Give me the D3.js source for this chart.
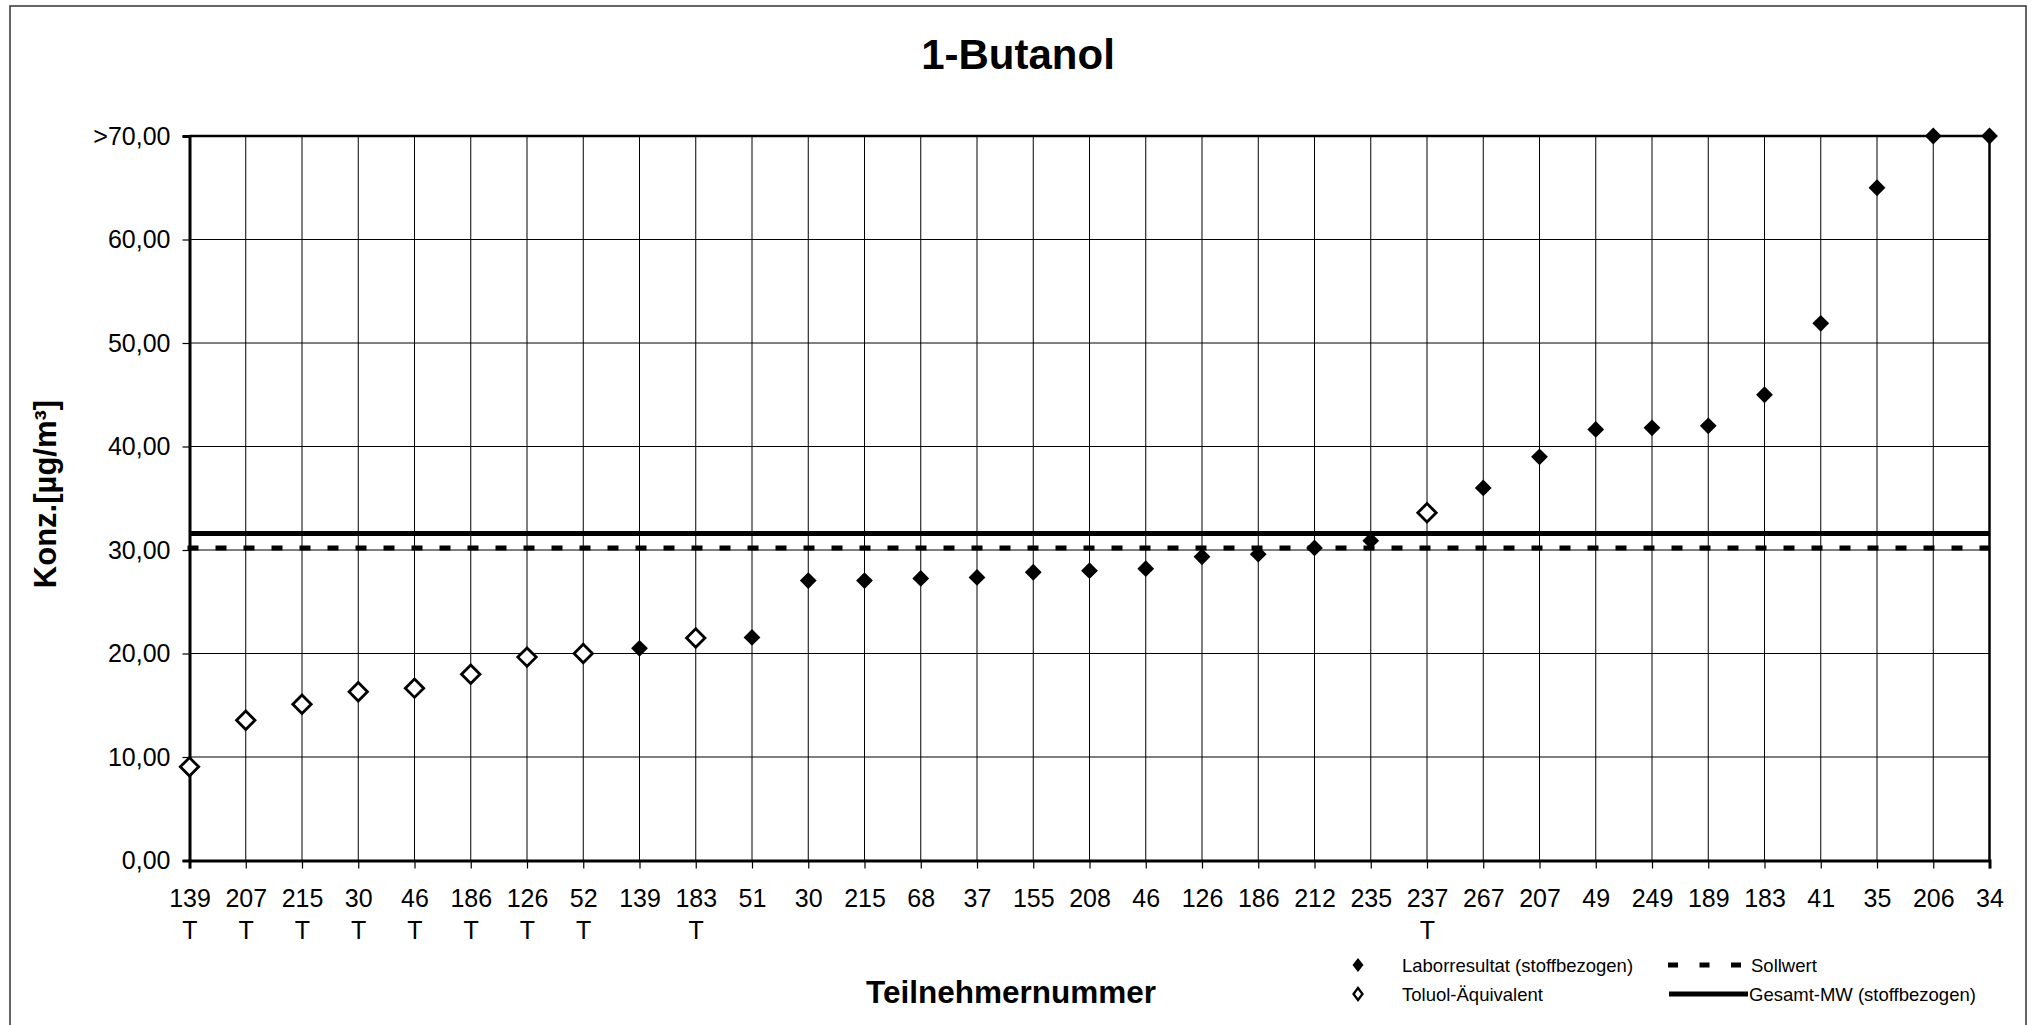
<!DOCTYPE html>
<html>
<head>
<meta charset="utf-8">
<script src="https://cdn.jsdelivr.net/npm/d3@7"></script>
<style>
  html, body { margin: 0; padding: 0; background: #fff; }
  svg { display: block; }
  text { font-family: "Liberation Sans", Arial, Helvetica, sans-serif; fill: #000; }
</style>
</head>
<body>
<svg id="chart" width="2035" height="1025"></svg>
<script>
// ---------------- data ----------------
const participants = ["139","207","215","30","46","186","126","52","139","183","51","30","215","68","37","155","208","46","126","186","212","235","237","267","207","49","249","189","183","41","35","206","34"];
const suffixes = ["T","T","T","T","T","T","T","T","","T","","","","","","","","","","","","","T","","","","","","","","","",""];
const values = [9.05,13.55,15.1,16.3,16.65,18.0,19.65,20.0,20.5,21.5,21.55,27.05,27.05,27.25,27.35,27.85,28.0,28.2,29.35,29.6,30.2,30.9,33.6,36.0,39.0,41.65,41.8,42.0,45.0,51.9,65.0,70,70];
const isToluol = [true,true,true,true,true,true,true,true,false,true,false,false,false,false,false,false,false,false,false,false,false,false,true,false,false,false,false,false,false,false,false,false,false];
const sollwert = 30.2;
const gesamtMW = 31.6;
const yTickValues = [0,10,20,30,40,50,60,70];
const yTickLabels = ["0,00","10,00","20,00","30,00","40,00","50,00","60,00",">70,00"];
const titleText = "1-Butanol";
const yTitle = "Konz.[µg/m³]";
const xTitle = "Teilnehmernummer";
const legendItems = ["Laborresultat (stoffbezogen)","Toluol-Äquivalent","Sollwert","Gesamt-MW (stoffbezogen)"];

// ---------------- layout ----------------
const pLeft = 189.5, pRight = 1989.5, pTop = 136, pBottom = 860.5;
const svg = d3.select("#chart");
svg.append("rect").attr("x",0).attr("y",0).attr("width",2035).attr("height",1025).attr("fill","#fff");
// outer frame
svg.append("rect").attr("x",10).attr("y",6).attr("width",2016).attr("height",1040)
  .attr("fill","none").attr("stroke","#333").attr("stroke-width",1.5);

const idx = d3.range(participants.length);
const x = d3.scalePoint().domain(idx).range([pLeft, pRight]).padding(0);
const y = d3.scaleLinear().domain([0,70]).range([pBottom, pTop]);

// gridlines
const grid = svg.append("g");
grid.selectAll("line.v").data(idx).join("line")
  .attr("x1", d => x(d)).attr("x2", d => x(d))
  .attr("y1", pTop).attr("y2", pBottom)
  .attr("stroke","#000").attr("stroke-width",1);
grid.selectAll("line.h").data(yTickValues).join("line")
  .attr("x1", pLeft).attr("x2", pRight)
  .attr("y1", d => y(d)).attr("y2", d => y(d))
  .attr("stroke","#000").attr("stroke-width",1);

// reference lines
svg.append("line").attr("x1", pLeft-2).attr("x2", pRight)
  .attr("y1", y(sollwert)).attr("y2", y(sollwert))
  .attr("stroke","#000").attr("stroke-width",5).attr("stroke-dasharray","11,17");
svg.append("line").attr("x1", pLeft).attr("x2", pRight)
  .attr("y1", y(gesamtMW)).attr("y2", y(gesamtMW))
  .attr("stroke","#000").attr("stroke-width",5);

// frame top/right
svg.append("line").attr("x1", pLeft).attr("x2", pRight).attr("y1", pTop).attr("y2", pTop)
  .attr("stroke","#000").attr("stroke-width",2.5);
svg.append("line").attr("x1", pRight).attr("x2", pRight).attr("y1", pTop).attr("y2", pBottom)
  .attr("stroke","#000").attr("stroke-width",2.5);

// y axis
const yAxis = svg.append("g").attr("transform", `translate(${pLeft},0)`)
  .call(d3.axisLeft(y).tickValues(yTickValues).tickSize(7).tickPadding(12)
        .tickFormat((d,i) => yTickLabels[i]));
yAxis.select(".domain").attr("stroke","#000").attr("stroke-width",3);
yAxis.selectAll(".tick line").attr("stroke","#000").attr("stroke-width",1.2);
yAxis.selectAll(".tick text").attr("font-size",25).attr("font-family","Liberation Sans, Arial, sans-serif").attr("fill","#000");

// x axis
const xAxis = svg.append("g").attr("transform", `translate(0,${pBottom})`)
  .call(d3.axisBottom(x).tickSize(8).tickFormat(d => participants[d]));
xAxis.select(".domain").attr("stroke","#000").attr("stroke-width",3);
xAxis.selectAll(".tick line").attr("stroke","#000").attr("stroke-width",1.2);
xAxis.selectAll(".tick text").attr("font-size",25).attr("font-family","Liberation Sans, Arial, sans-serif")
  .attr("fill","#000").attr("y",46.5).attr("dy",0);
xAxis.selectAll(".tick").append("text")
  .attr("font-size",25).attr("font-family","Liberation Sans, Arial, sans-serif").attr("fill","#000")
  .attr("text-anchor","middle").attr("y",78.5)
  .text(d => suffixes[d]);

// markers
const diamond = (r) => `M0,${-r}L${r},0L0,${r}L${-r},0Z`;
svg.append("g").selectAll("path").data(idx.filter(i => !isToluol[i])).join("path")
  .attr("transform", d => `translate(${x(d)},${y(values[d])})`)
  .attr("d", diamond(8.4)).attr("fill","#000");
svg.append("g").selectAll("path").data(idx.filter(i => isToluol[i])).join("path")
  .attr("transform", d => `translate(${x(d)},${y(values[d])})`)
  .attr("d", diamond(9.2)).attr("fill","#fff").attr("stroke","#000").attr("stroke-width",2.8);

// titles
svg.append("text").attr("x",1018).attr("y",69).attr("text-anchor","middle")
  .attr("font-size",42).attr("font-weight","bold").text(titleText);
svg.append("text").attr("transform","translate(56,494) rotate(-90)").attr("text-anchor","middle")
  .attr("font-size",31).attr("font-weight","bold").text(yTitle);
svg.append("text").attr("x",1011).attr("y",1003).attr("text-anchor","middle")
  .attr("font-size",31.5).attr("font-weight","bold").text(xTitle);

// legend
const lg = svg.append("g");
lg.append("path").attr("d","M0,-7L5.5,0L0,7L-5.5,0Z").attr("transform","translate(1358,965)").attr("fill","#000");
lg.append("path").attr("d","M0,-6L4.5,0L0,6L-4.5,0Z").attr("transform","translate(1358,994)")
  .attr("fill","#fff").attr("stroke","#000").attr("stroke-width",2.3);
lg.append("text").attr("x",1402).attr("y",971.5).attr("font-size",18.5).text(legendItems[0]);
lg.append("text").attr("x",1402).attr("y",1001).attr("font-size",18.5).text(legendItems[1]);
lg.append("line").attr("x1",1668).attr("x2",1742).attr("y1",965).attr("y2",965)
  .attr("stroke","#000").attr("stroke-width",5).attr("stroke-dasharray","10,21.5");
lg.append("line").attr("x1",1669).attr("x2",1748).attr("y1",994).attr("y2",994)
  .attr("stroke","#000").attr("stroke-width",5);
lg.append("text").attr("x",1751).attr("y",971.5).attr("font-size",18.5).text(legendItems[2]);
lg.append("text").attr("x",1749).attr("y",1001).attr("font-size",18.5).text(legendItems[3]);
</script>
</body>
</html>
